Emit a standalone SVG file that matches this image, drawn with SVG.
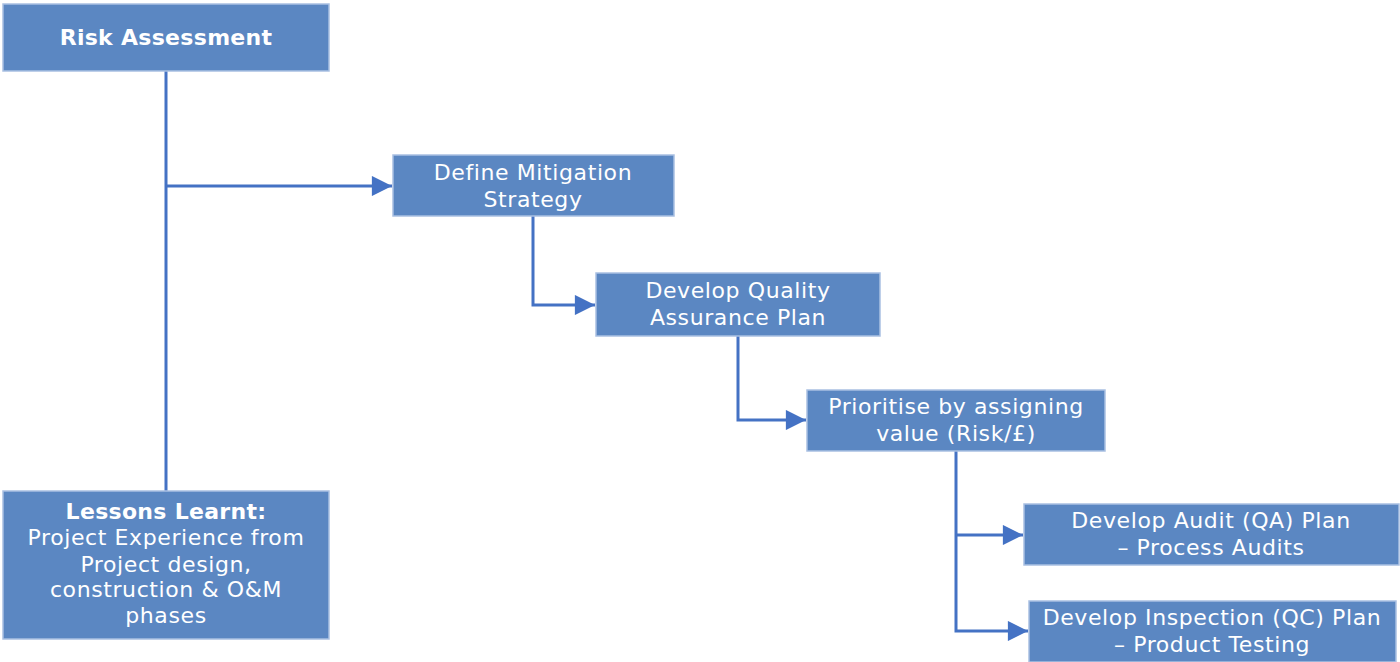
<svg xmlns="http://www.w3.org/2000/svg" width="1400" height="662" viewBox="0 0 1400 662">
  <defs>
    <style>
      .box { fill: #5B87C2; stroke: #A9C0E2; stroke-width: 1.5; }
      .txt { font-family: "DejaVu Sans", Verdana, sans-serif; font-size: 22px; fill: #FFFFFF; text-anchor: middle; letter-spacing: 0.6px; }
      .bold { font-weight: bold; letter-spacing: 0.3px; }
      .conn { fill: none; stroke: #4472C4; stroke-width: 3; }
    </style>
    <marker id="arrow" viewBox="0 0 10 10" refX="10" refY="5" markerWidth="7" markerHeight="6.7" markerUnits="strokeWidth" orient="auto">
      <path d="M0,0 L10,5 L0,10 Z" fill="#4472C4"/>
    </marker>
  </defs>
  <rect width="1400" height="662" fill="#FFFFFF"/>

  <g id="connectors">
    <line class="conn" x1="166" y1="71" x2="166" y2="491"/>
    <path class="conn" d="M166,186 H392" marker-end="url(#arrow)"/>
    <path class="conn" d="M533,216 V305 H595" marker-end="url(#arrow)"/>
    <path class="conn" d="M738,336 V420 H806" marker-end="url(#arrow)"/>
    <path class="conn" d="M956,451 V631 H1028" marker-end="url(#arrow)"/>
    <path class="conn" d="M956,535 H1023" marker-end="url(#arrow)"/>
  </g>

  <g id="risk-assessment">
    <rect class="box" x="3" y="4" width="326" height="67"/>
    <text class="txt bold" x="166" y="45">Risk Assessment</text>
  </g>

  <g id="define-mitigation">
    <rect class="box" x="393" y="155" width="281" height="61"/>
    <text class="txt" x="533" y="180">Define Mitigation</text>
    <text class="txt" x="533" y="207">Strategy</text>
  </g>

  <g id="qa-plan">
    <rect class="box" x="596" y="273" width="284" height="63"/>
    <text class="txt" x="738" y="298">Develop Quality</text>
    <text class="txt" x="738" y="325">Assurance Plan</text>
  </g>

  <g id="prioritise">
    <rect class="box" x="807" y="390" width="298" height="61"/>
    <text class="txt" x="956" y="414">Prioritise by assigning</text>
    <text class="txt" x="956" y="441">value (Risk/£)</text>
  </g>

  <g id="audit-plan">
    <rect class="box" x="1024" y="504" width="375" height="61"/>
    <text class="txt" x="1211" y="528">Develop Audit (QA) Plan</text>
    <text class="txt" x="1211" y="555">– Process Audits</text>
  </g>

  <g id="inspection-plan">
    <rect class="box" x="1029" y="601" width="367" height="61"/>
    <text class="txt" x="1212" y="625">Develop Inspection (QC) Plan</text>
    <text class="txt" x="1212" y="652">– Product Testing</text>
  </g>

  <g id="lessons-learnt">
    <rect class="box" x="3" y="491" width="326" height="148"/>
    <text class="txt bold" x="166" y="519">Lessons Learnt:</text>
    <text class="txt" x="166" y="545">Project Experience from</text>
    <text class="txt" x="166" y="572">Project design,</text>
    <text class="txt" x="166" y="597">construction &amp; O&amp;M</text>
    <text class="txt" x="166" y="623">phases</text>
  </g>
</svg>
